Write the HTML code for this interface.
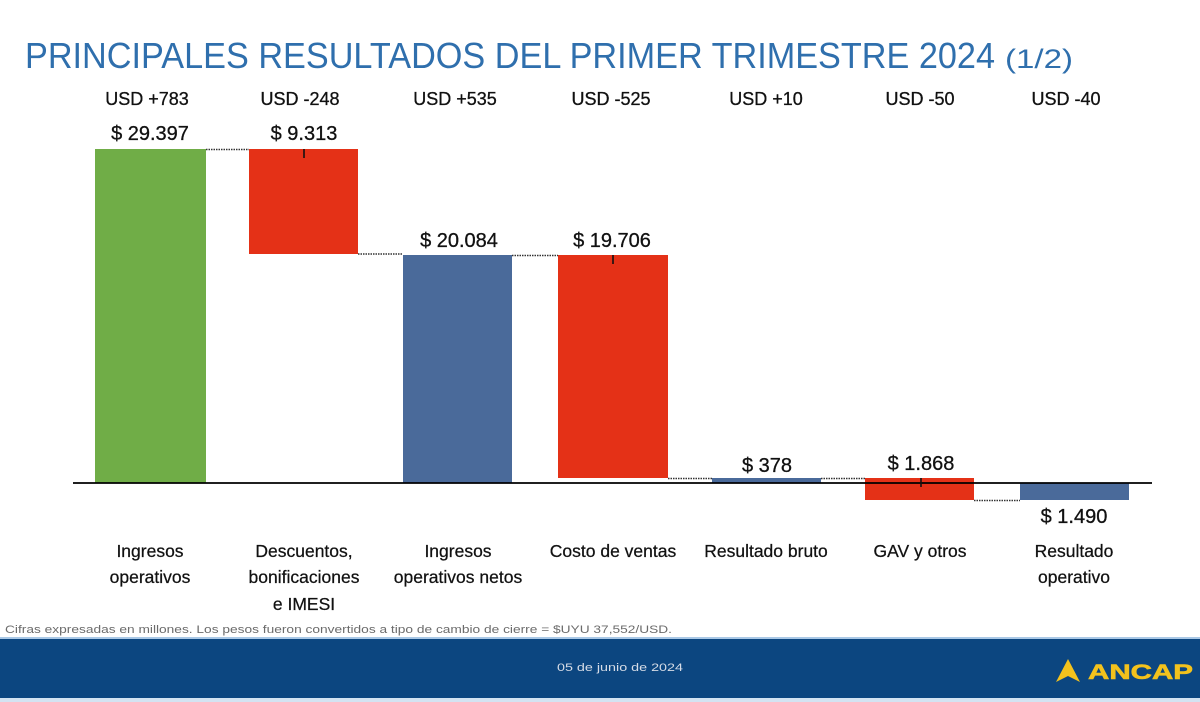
<!DOCTYPE html>
<html>
<head>
<meta charset="utf-8">
<style>
html,body{margin:0;padding:0;background:#fff;width:1200px;height:702px;overflow:hidden;}
svg{display:block;}
text{font-family:"Liberation Sans",Arial,sans-serif;}
</style>
</head>
<body>
<svg width="1200" height="702" viewBox="0 0 1200 702" xmlns="http://www.w3.org/2000/svg">
<rect x="0" y="0" width="1200" height="702" fill="#ffffff"/>

<!-- Title -->
<text x="25" y="68" font-size="36" fill="#2f6fad" textLength="970" lengthAdjust="spacingAndGlyphs">PRINCIPALES RESULTADOS DEL PRIMER TRIMESTRE 2024</text>
<text x="1005" y="68" font-size="27" fill="#2f6fad" textLength="68" lengthAdjust="spacingAndGlyphs">(1/2)</text>

<!-- USD labels -->
<g font-size="18" fill="#111" stroke="#111" stroke-width="0.3" text-anchor="middle">
<text x="147" y="105">USD +783</text>
<text x="300" y="105">USD -248</text>
<text x="455" y="105">USD +535</text>
<text x="611" y="105">USD -525</text>
<text x="766" y="105">USD +10</text>
<text x="920" y="105">USD -50</text>
<text x="1066" y="105">USD -40</text>
</g>

<!-- Bars -->
<rect x="95" y="149" width="111" height="334" fill="#70ad47"/>
<rect x="249" y="149" width="109" height="105" fill="#e43117"/>
<rect x="403" y="255" width="109" height="228" fill="#4a6a9a"/>
<rect x="558" y="255" width="110" height="223" fill="#e43117"/>
<rect x="712" y="478" width="109" height="5" fill="#4a6a9a"/>
<rect x="865" y="478" width="109" height="22" fill="#e43117"/>
<rect x="1020" y="483" width="109" height="17" fill="#4a6a9a"/>

<!-- Connectors -->
<g stroke="#333" stroke-width="1.5" stroke-dasharray="1.5 1">
<line x1="206" y1="149.5" x2="249" y2="149.5"/>
<line x1="358" y1="254" x2="403" y2="254"/>
<line x1="512" y1="255.5" x2="558" y2="255.5"/>
<line x1="668" y1="478.5" x2="712" y2="478.5"/>
<line x1="821" y1="478.5" x2="865" y2="478.5"/>
<line x1="974" y1="500.5" x2="1020" y2="500.5"/>
</g>

<!-- Axis -->
<line x1="73" y1="483" x2="1152" y2="483" stroke="#000" stroke-width="1.8"/>

<!-- Tick marks -->
<g stroke="#111" stroke-width="1.6">
<line x1="304" y1="149" x2="304" y2="158"/>
<line x1="613" y1="255" x2="613" y2="264"/>
<line x1="921" y1="478" x2="921" y2="487"/>
</g>

<!-- Value labels -->
<g font-size="20" fill="#111" stroke="#111" stroke-width="0.3" text-anchor="middle">
<text x="150" y="140">$ 29.397</text>
<text x="304" y="140">$ 9.313</text>
<text x="459" y="247">$ 20.084</text>
<text x="612" y="247">$ 19.706</text>
<text x="767" y="472">$ 378</text>
<text x="921" y="470">$ 1.868</text>
<text x="1074" y="523">$ 1.490</text>
</g>

<!-- Category labels -->
<g font-size="17.5" fill="#111" stroke="#111" stroke-width="0.25" text-anchor="middle">
<text x="150" y="557">Ingresos</text>
<text x="150" y="583">operativos</text>
<text x="304" y="557">Descuentos,</text>
<text x="304" y="583">bonificaciones</text>
<text x="304" y="610">e IMESI</text>
<text x="458" y="557">Ingresos</text>
<text x="458" y="583">operativos netos</text>
<text x="613" y="557">Costo de ventas</text>
<text x="766" y="557">Resultado bruto</text>
<text x="920" y="557">GAV y otros</text>
<text x="1074" y="557">Resultado</text>
<text x="1074" y="583">operativo</text>
</g>

<!-- Footnote -->
<text x="5" y="633" font-size="11" fill="#6b6b6b" textLength="667" lengthAdjust="spacingAndGlyphs">Cifras expresadas en millones. Los pesos fueron convertidos a tipo de cambio de cierre = $UYU 37,552/USD.</text>

<!-- Footer band -->
<rect x="0" y="637" width="1200" height="2" fill="#a9c8e6"/>
<rect x="0" y="639" width="1200" height="59" fill="#0c4680"/>
<rect x="0" y="698" width="1200" height="4" fill="#d3e3f2"/>
<text x="620" y="671" font-size="11" fill="#d6dce6" text-anchor="middle" textLength="126" lengthAdjust="spacingAndGlyphs">05 de junio de 2024</text>

<!-- ANCAP logo -->
<polygon points="1068,659 1080,682 1068,676 1056,682" fill="#f3c21d"/>
<text x="1088" y="679" font-size="21" font-weight="bold" fill="#f3c21d" stroke="#f3c21d" stroke-width="0.6" textLength="105" lengthAdjust="spacingAndGlyphs">ANCAP</text>
</svg>
</body>
</html>
